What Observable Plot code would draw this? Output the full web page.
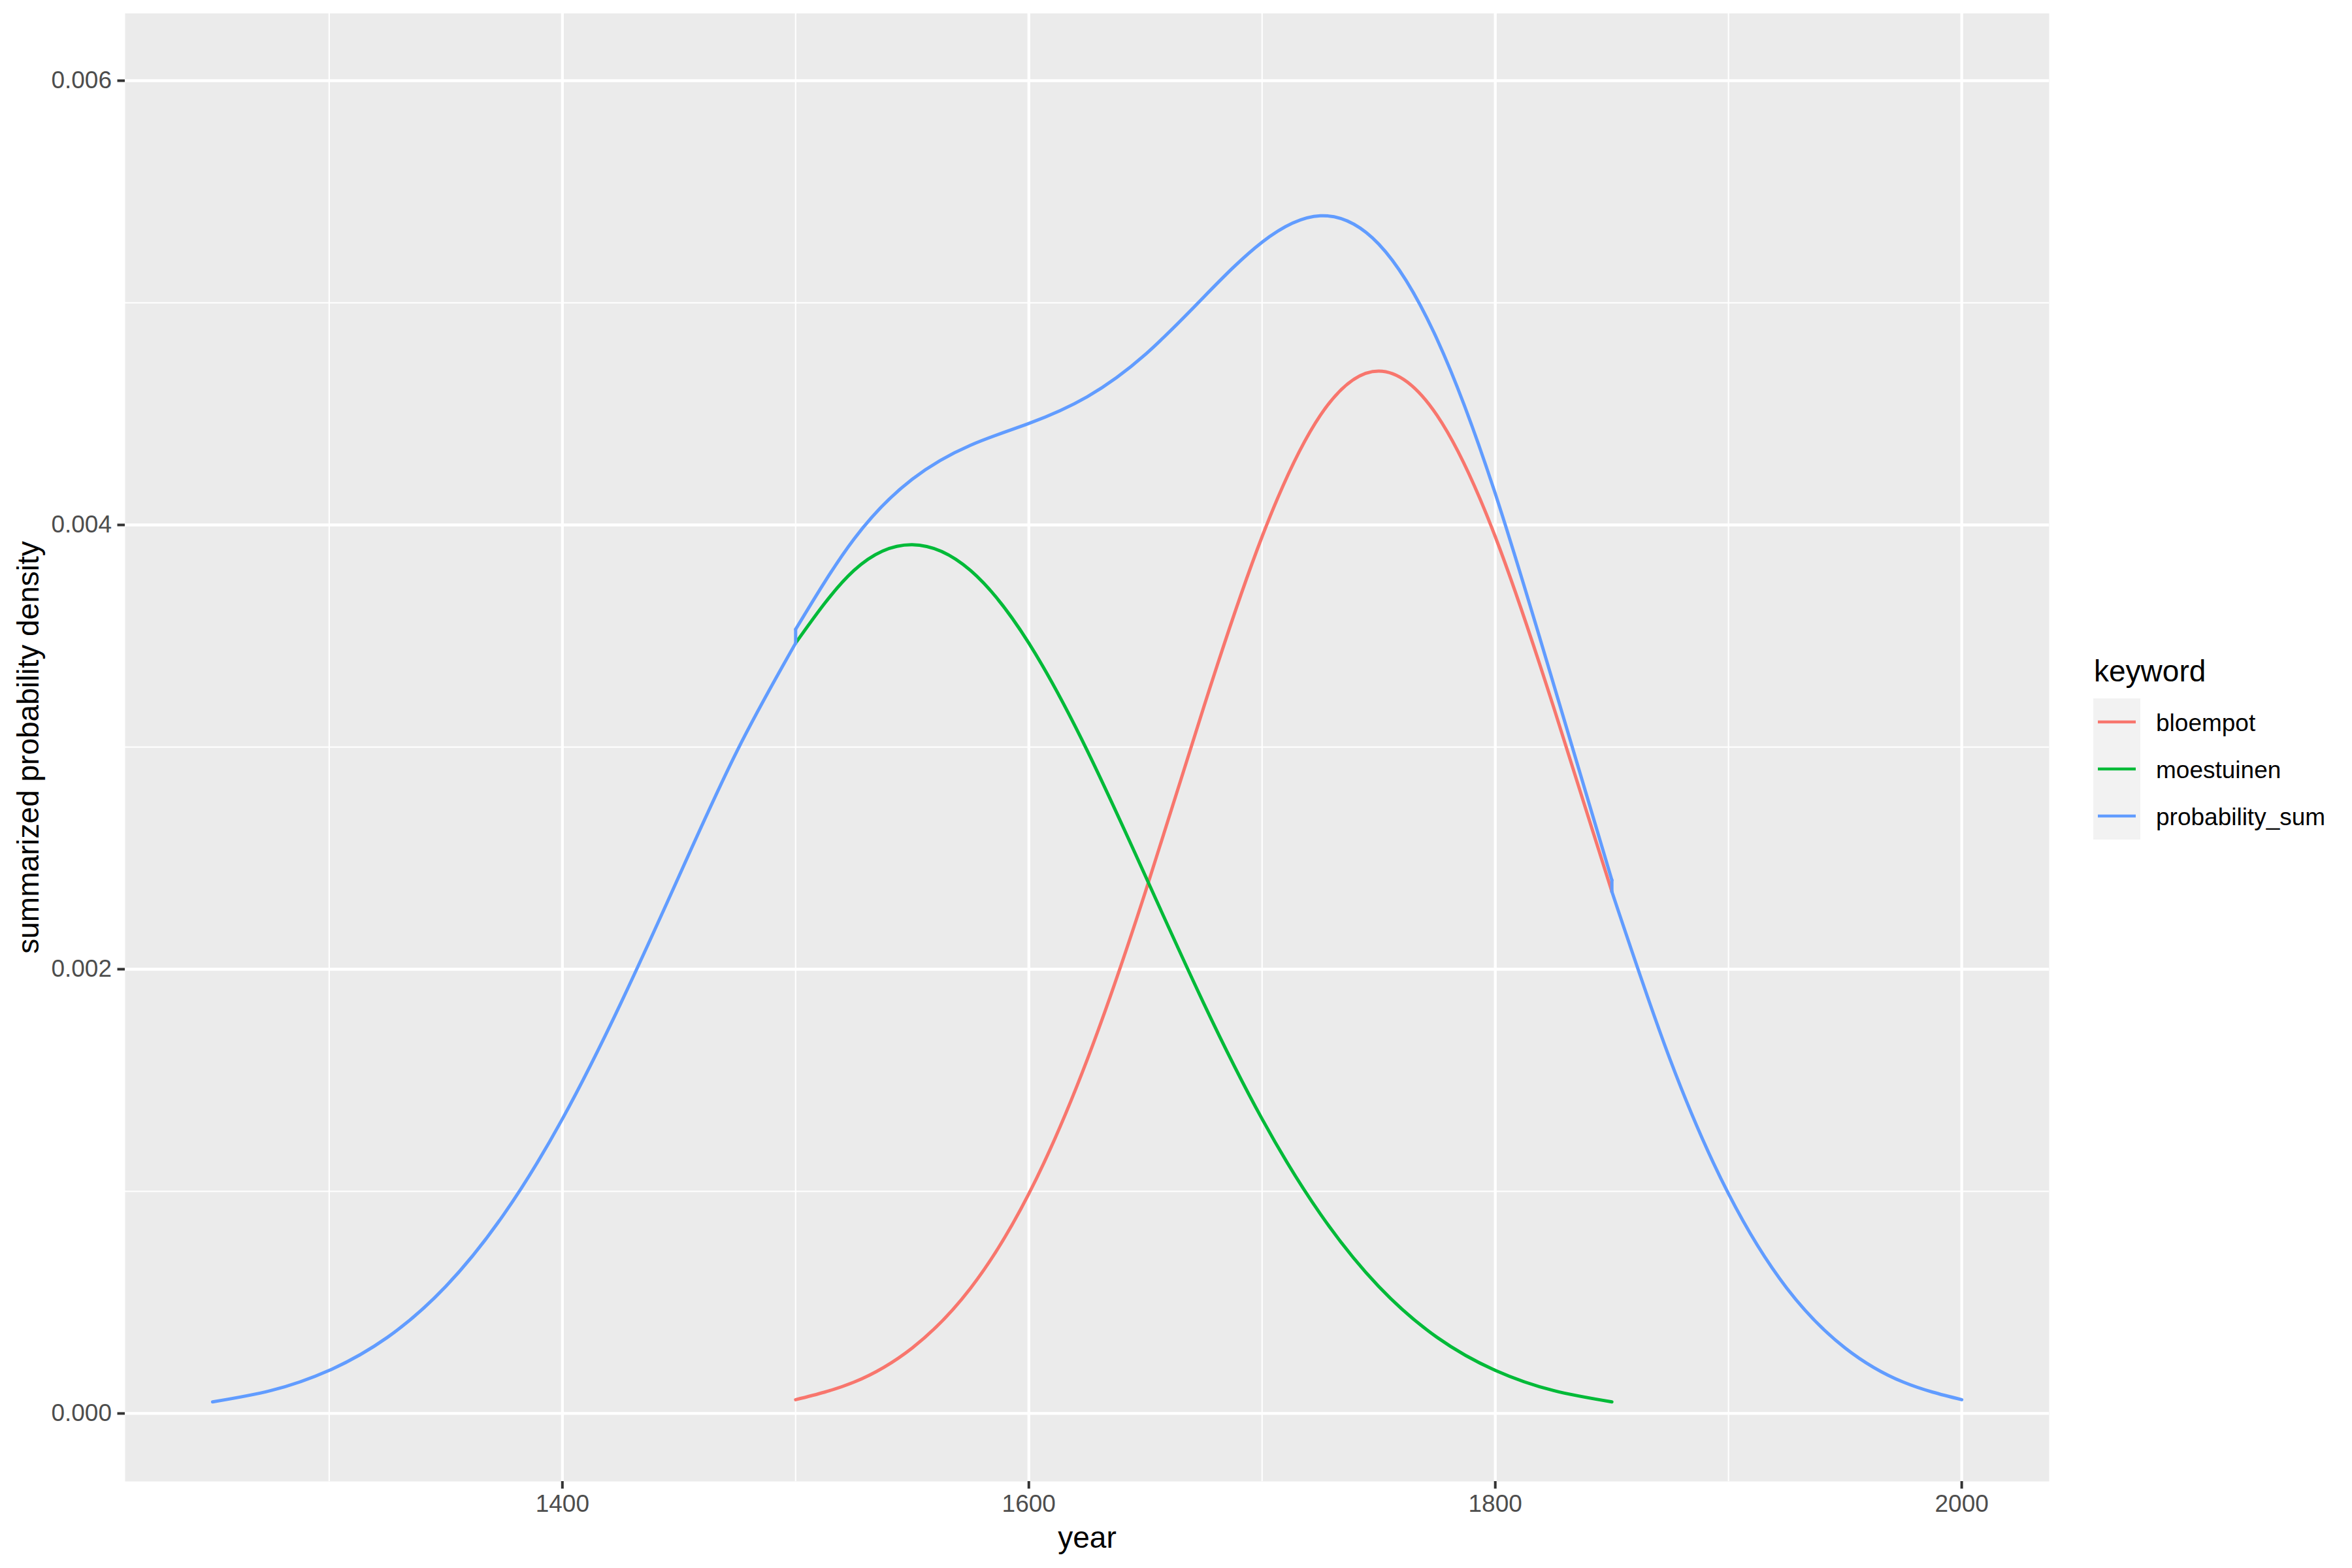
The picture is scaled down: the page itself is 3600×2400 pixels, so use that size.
<!DOCTYPE html>
<html><head><meta charset="utf-8">
<script src="https://cdn.jsdelivr.net/npm/d3@7"></script>
<script src="https://cdn.jsdelivr.net/npm/@observablehq/plot@0.6"></script>
<style>
body{margin:0;background:#fff;font-family:"Liberation Sans",Arial,sans-serif;}
#wrap{position:relative;width:3600px;height:2400px;}
#legend{position:absolute;left:3190px;top:990px;}
</style></head><body><div id="wrap"></div>
<script>
// ---- data ----
const keywords = ["bloempot", "moestuinen", "probability_sum"];
const colors = ["#F8766D", "#00BA38", "#619CFF"];

const bloempotYears = [1500,1525,1550,1575,1600,1625,1650,1675,1700,1725,1750,1775,1800,1825,1850];
const bloempotValues = [0.000062,0.000141,0.000295,0.000564,0.000989,0.001592,0.002349,0.003180,0.003947,0.004494,0.004693,0.004494,0.003947,0.003180,0.002349];

const moestuinenYears = [1500,1525,1550,1575,1600,1625,1650,1675,1700,1725,1750,1775,1800,1825,1850];
const moestuinenValues = [0.003468,0.003795,0.003911,0.003795,0.003468,0.002985,0.002419,0.001846,0.001326,0.000898,0.000572,0.000343,0.000194,0.000103,0.000052];

const sumYears = [1250,1275,1300,1325,1350,1375,1400,1425,1450,1475,1500,
                  1500,1525,1550,1575,1600,1625,1650,1675,1700,1725,1750,1775,1800,1825,1850,
                  1850,1875,1900,1925,1950,1975,2000];
const sumValues = [0.000052,0.000103,0.000194,0.000343,0.000572,0.000898,0.001326,0.001846,0.002419,0.002985,0.003468,
                   0.003530,0.003936,0.004206,0.004359,0.004457,0.004577,0.004768,0.005026,0.005273,0.005392,0.005265,0.004837,0.004141,0.003283,0.002401,
                   0.002349,0.001592,0.000989,0.000564,0.000295,0.000141,0.000062];
const sumSegments = [0,0,0,0,0,0,0,0,0,0,0,
                     1,1,1,1,1,1,1,1,1,1,1,1,1,1,1,
                     2,2,2,2,2,2,2];

const xMajor = [1400, 1600, 1800, 2000];
const xMinor = [1300, 1500, 1700, 1900];
const yMajor = [0, 0.002, 0.004, 0.006];
const yMinor = [0.001, 0.003, 0.005];

// ---- build tables ----
const rows = [];
bloempotYears.forEach((y, i) => rows.push({year: y, value: bloempotValues[i], keyword: "bloempot", seg: 0}));
moestuinenYears.forEach((y, i) => rows.push({year: y, value: moestuinenValues[i], keyword: "moestuinen", seg: 0}));
sumYears.forEach((y, i) => rows.push({year: y, value: sumValues[i], keyword: "probability_sum", seg: sumSegments[i]}));

const jumps = [];
for (let i = 1; i < sumYears.length; i++) {
  if (sumSegments[i] !== sumSegments[i - 1]) {
    jumps.push({year: sumYears[i - 1], value: sumValues[i - 1], keyword: "probability_sum", id: i});
    jumps.push({year: sumYears[i], value: sumValues[i], keyword: "probability_sum", id: i});
  }
}

const chart = Plot.plot({
  width: 3600,
  height: 2400,
  marginLeft: 191,
  marginRight: 464,
  marginTop: 20,
  marginBottom: 133,
  style: {fontFamily: "Liberation Sans, Arial, sans-serif", fontSize: "37px", background: "white"},
  x: {domain: [1212.5, 2037.5]},
  y: {domain: [-0.000306, 0.006303]},
  color: {domain: keywords, range: colors},
  marks: [
    Plot.frame({fill: "#EBEBEB", stroke: null}),
    Plot.ruleX(xMinor, {stroke: "white", strokeWidth: 2.1}),
    Plot.ruleY(yMinor, {stroke: "white", strokeWidth: 2.1}),
    Plot.ruleX(xMajor, {stroke: "white", strokeWidth: 4.3}),
    Plot.ruleY(yMajor, {stroke: "white", strokeWidth: 4.3}),
    Plot.line(rows, {x: "year", y: "value", z: d => d.keyword + d.seg, stroke: "keyword", strokeWidth: 5, curve: "natural"}),
    Plot.line(jumps, {x: "year", y: "value", z: "id", stroke: "keyword", strokeWidth: 5}),
    Plot.axisX({ticks: xMajor, tickSize: 11.5, tickPadding: 9, fontSize: 37, stroke: "#333333", fill: "#4D4D4D", strokeWidth: 4, label: null, tickFormat: d => String(d)}),
    Plot.axisY({ticks: yMajor, tickSize: 11.5, tickPadding: 9, fontSize: 37, stroke: "#333333", fill: "#4D4D4D", strokeWidth: 4, label: null, tickFormat: d3.format(".3f")}),
    Plot.text(["year"], {frameAnchor: "bottom", dy: 101, lineAnchor: "bottom", textAnchor: "middle", fontSize: 46, fill: "black"}),
    Plot.text(["summarized probability density"], {frameAnchor: "left", dx: -133, rotate: -90, lineAnchor: "bottom", textAnchor: "middle", fontSize: 46, fill: "black"})
  ]
});
const wrap = document.getElementById("wrap");
wrap.appendChild(chart);

// ---- legend ----
const ns = "http://www.w3.org/2000/svg";
const lg = document.createElementNS(ns, "svg");
lg.setAttribute("id", "legend");
lg.setAttribute("width", 400);
lg.setAttribute("height", 320);
lg.style.fontFamily = "Liberation Sans, Arial, sans-serif";
const title = document.createElementNS(ns, "text");
title.setAttribute("x", 15); title.setAttribute("y", 53);
title.setAttribute("font-size", 46); title.setAttribute("fill", "black");
title.textContent = "keyword";
lg.appendChild(title);
const bg = document.createElementNS(ns, "rect");
bg.setAttribute("x", 14); bg.setAttribute("y", 79);
bg.setAttribute("width", 72); bg.setAttribute("height", 72 * keywords.length);
bg.setAttribute("fill", "#F2F2F2");
lg.appendChild(bg);
keywords.forEach((k, i) => {
  const cy = 79 + 36 + 72 * i;
  const ln = document.createElementNS(ns, "line");
  ln.setAttribute("x1", 21); ln.setAttribute("x2", 79);
  ln.setAttribute("y1", cy); ln.setAttribute("y2", cy);
  ln.setAttribute("stroke", colors[i]); ln.setAttribute("stroke-width", 4.5);
  lg.appendChild(ln);
  const t = document.createElementNS(ns, "text");
  t.setAttribute("x", 110); t.setAttribute("y", cy + 13.5);
  t.setAttribute("font-size", 37); t.setAttribute("fill", "black");
  t.textContent = k;
  lg.appendChild(t);
});
wrap.appendChild(lg);
</script>
</body></html>
